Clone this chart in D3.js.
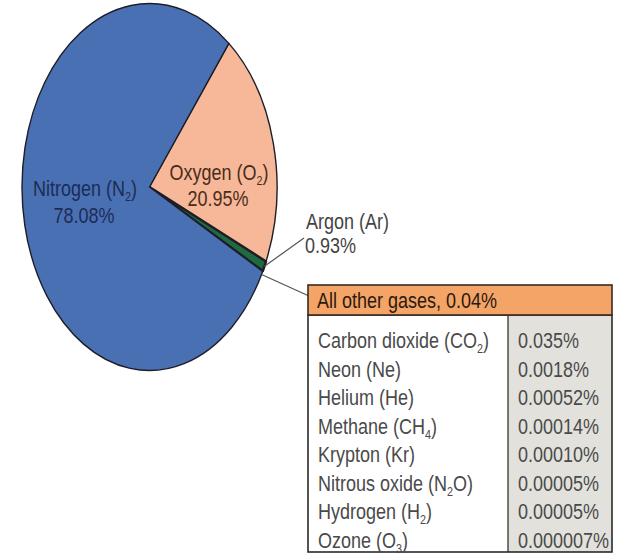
<!DOCTYPE html>
<html><head><meta charset="utf-8">
<script src="https://cdn.jsdelivr.net/npm/d3@7"></script>
<style>html,body{margin:0;padding:0;background:#fff;}svg{display:block;}</style>
</head><body>
<svg id="chart" width="621" height="556"></svg>
<script>
// ---- data ----
const sliceNames = ["Oxygen (O_2)", "Argon (Ar)", "All other gases", "Nitrogen (N_2)"];
const sliceValues = [20.95, 0.93, 0.04, 78.08];
const sliceLabels = ["20.95%", "0.93%", "0.04%", "78.08%"];
const sliceColors = ["#f6b898", "#1f6a40", "#111111", "#4a70b4"];

const traceNames = ["Carbon dioxide (CO_2)", "Neon (Ne)", "Helium (He)", "Methane (CH_4)",
                    "Krypton (Kr)", "Nitrous oxide (N_2O)", "Hydrogen (H_2)", "Ozone (O_3)"];
const traceLabels = ["0.035%", "0.0018%", "0.00052%", "0.00014%", "0.00010%", "0.00005%", "0.00005%", "0.000007%"];

// ---- helpers ----
const FONT = "'Liberation Sans', Arial, sans-serif";
const SX = 0.8; // condensed look
function richText(sel, str, size) {
  const parts = str.split(/_(\d)/);
  parts.forEach((p, i) => {
    if (p === "") return;
    if (i % 2 === 1) {
      sel.append("tspan").attr("font-size", size * 0.6).attr("dy", size * 0.22).text(p);
    } else {
      const t = sel.append("tspan").text(p);
      if (i > 0) t.attr("dy", -size * 0.22);
    }
  });
}
function label(g, x, y, str, opts = {}) {
  const size = opts.size || 22.5;
  const t = g.append("text")
    .attr("transform", `translate(${x},${y}) scale(${SX},1)`)
    .attr("font-family", FONT).attr("font-size", size)
    .attr("fill", opts.fill || "#333")
    .attr("text-anchor", opts.anchor || "start");
  richText(t, str, size);
  return t;
}

const svg = d3.select("#chart");

// ---- pie (elliptical, drawn via scale) ----
const cx = 149.5, cy = 187, rx = 127.5, ry = 183.5, R = 100;
const start = 38.5 * Math.PI / 180;
const pie = d3.pie().sort(null).value(d => d.v).startAngle(start).endAngle(start + 2 * Math.PI);
const arcs = pie(sliceValues.map((v, i) => ({ v, name: sliceNames[i], color: sliceColors[i] })));
const arc = d3.arc().innerRadius(0).outerRadius(R);

const pg = svg.append("g").attr("transform", `translate(${cx},${cy}) scale(${rx / R},${ry / R})`);
pg.selectAll("path").data(arcs).join("path")
  .attr("d", arc)
  .attr("fill", d => d.data.color)
  .attr("stroke", "#1e1e28")
  .attr("stroke-width", d => d.index === 1 ? 2.4 : 1.4)
  .attr("stroke-linejoin", "round")
  .attr("vector-effect", "non-scaling-stroke");

function edgePoint(a) { return [cx + rx * Math.sin(a), cy - ry * Math.cos(a)]; }

// pie labels
const lg = svg.append("g");
label(lg, 85, 196, "Nitrogen (N_2)", { anchor: "middle", fill: "#1c2c55" });
label(lg, 84, 223, sliceLabels[3], { anchor: "middle", fill: "#1c2c55" });
label(lg, 219, 180, "Oxygen (O_2)", { anchor: "middle", fill: "#4a2c1c" });
label(lg, 218, 206, sliceLabels[0], { anchor: "middle", fill: "#4a2c1c" });

// Argon callout
const argA = (arcs[1].startAngle + arcs[1].endAngle) / 2;
const pA = edgePoint(argA);
svg.append("line").attr("x1", pA[0]).attr("y1", pA[1]).attr("x2", 304).attr("y2", 238)
  .attr("stroke", "#555").attr("stroke-width", 1.2);
label(lg, 306, 229, sliceNames[1], { fill: "#444" });
label(lg, 305, 253, sliceLabels[1], { fill: "#444" });

// Others callout
const othA = (arcs[2].startAngle + arcs[2].endAngle) / 2;
const pO = edgePoint(othA + 0.02);
svg.append("line").attr("x1", pO[0]).attr("y1", pO[1]).attr("x2", 309).attr("y2", 296)
  .attr("stroke", "#555").attr("stroke-width", 1.2);

// ---- table ----
const tx = 308, tw = 304, hy = 285, hh = 30, colX = 508;
const rowY = d3.scalePoint().domain(d3.range(traceNames.length)).range([348, 548]);
const by = hy + hh, bh = 552 - by;
const tg = svg.append("g");
tg.append("rect").attr("x", tx).attr("y", by).attr("width", tw).attr("height", bh).attr("fill", "#fff");
tg.append("rect").attr("x", colX).attr("y", by).attr("width", tx + tw - colX).attr("height", bh).attr("fill", "#e2e1dc");
tg.append("line").attr("x1", colX).attr("x2", colX).attr("y1", by).attr("y2", by + bh).attr("stroke", "#333").attr("stroke-width", 1.3);
tg.append("rect").attr("x", tx).attr("y", by).attr("width", tw).attr("height", bh)
  .attr("fill", "none").attr("stroke", "#2a2a2a").attr("stroke-width", 1.6);
tg.append("rect").attr("x", tx).attr("y", hy).attr("width", tw).attr("height", hh)
  .attr("fill", "#f4a466").attr("stroke", "#3a2a20").attr("stroke-width", 1.6);
label(tg, 317, 308, `${sliceNames[2]}, ${sliceLabels[2]}`, { fill: "#2a1a10" });

traceNames.forEach((n, i) => {
  label(tg, 318, rowY(i), n, { fill: "#4a4a4a" });
  label(tg, 518, rowY(i), traceLabels[i], { fill: "#4a4a4a" });
});
</script>
</body></html>
